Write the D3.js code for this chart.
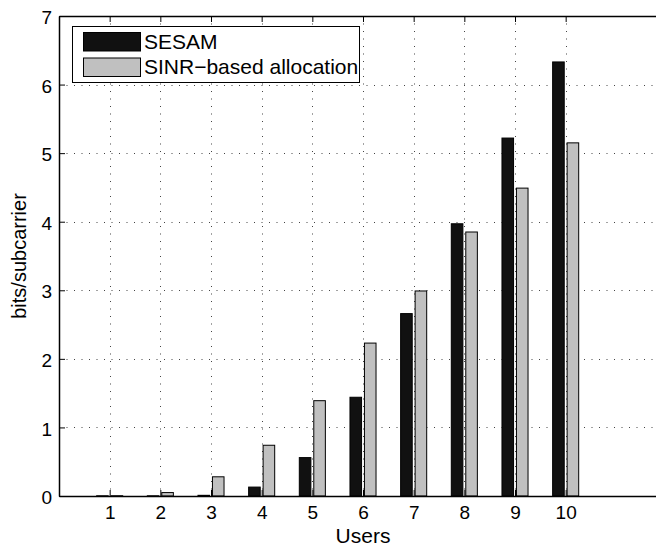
<!DOCTYPE html>
<html>
<head>
<meta charset="utf-8">
<script src="https://cdn.jsdelivr.net/npm/d3@7"></script>
<style>
  body { margin: 0; background: #fff; }
  svg { display: block; font-family: "Liberation Sans", Arial, sans-serif; }
</style>
</head>
<body>
<div id="chart"></div>
<script>
// users on the x axis
var users = [1, 2, 3, 4, 5, 6, 7, 8, 9, 10];
// bits per subcarrier
var sesam = [0.003, 0.003, 0.01, 0.13, 0.56, 1.44, 2.66, 3.97, 5.22, 6.33];
var sinr = [0.004, 0.05, 0.28, 0.74, 1.39, 2.23, 2.99, 3.85, 4.49, 5.15];
var seriesNames = ["SESAM", "SINR\u2212based allocation"];
var seriesColors = ["#111111", "#c0c0c0"];
var yTicks = [0, 1, 2, 3, 4, 5, 6, 7];

var width = 656, height = 548;
var margin = {left: 59, top: 16, right: -11, bottom: 52};

var svg = d3.select("#chart").append("svg")
    .attr("width", width)
    .attr("height", height);

// the axes box runs off the right edge, x goes to 12
var x = d3.scaleLinear().domain([0, 12]).range([margin.left, width - margin.right]);
var y = d3.scaleLinear().domain([0, 7]).range([height - margin.bottom, margin.top]);

// matlab grouped bar geometry: group width 2/3.5, bar width 0.8 of slot
var groupW = 2 / 3.5;
var barW = groupW / 2 * 0.8;

// grid
var grid = svg.append("g").attr("stroke", "#444").attr("stroke-width", 1)
    .attr("stroke-dasharray", "1,6.5");
grid.selectAll(".gx").data(users).join("line")
    .attr("x1", d => Math.round(x(d)) + 0.5).attr("x2", d => Math.round(x(d)) + 0.5)
    .attr("y1", y(7)).attr("y2", y(0));
grid.selectAll(".gy").data(yTicks.slice(1, -1)).join("line")
    .attr("y1", d => Math.round(y(d)) + 0.5).attr("y2", d => Math.round(y(d)) + 0.5)
    .attr("x1", x(0)).attr("x2", x(12));

// bars
var data = [sesam, sinr];
data.forEach(function(vals, s) {
    var off = (s - 0.5) * groupW / 2;
    svg.append("g").selectAll("rect").data(vals).join("rect")
        .attr("x", (d, i) => x(users[i] + off - barW / 2))
        .attr("width", x(barW) - x(0))
        .attr("y", d => y(d))
        .attr("height", d => y(0) - y(d))
        .attr("fill", seriesColors[s])
        .attr("stroke", "#000")
        .attr("stroke-width", 1);
});

// axes
var xAxis = d3.axisBottom(x).tickValues(users).tickSize(-6).tickPadding(10).tickSizeOuter(0);
var yAxis = d3.axisLeft(y).tickValues(yTicks).tickFormat(d3.format("d"))
    .tickSize(-6).tickPadding(7).tickSizeOuter(0);

var gx = svg.append("g").attr("transform", `translate(0,${y(0)})`).call(xAxis);
var gy = svg.append("g").attr("transform", `translate(${x(0)},0)`).call(yAxis);
var gxTop = svg.append("g").attr("transform", `translate(0,${y(7)})`)
    .call(d3.axisTop(x).tickValues(users).tickSize(-6).tickFormat("").tickSizeOuter(0));

[gx, gy, gxTop].forEach(g => {
    g.select(".domain").attr("stroke", "#000").attr("stroke-width", 1.5);
    g.selectAll(".tick line").attr("stroke", "#000");
    g.selectAll("text").attr("fill", "#000").attr("font-size", 19)
        .attr("font-family", "Liberation Sans, Arial, sans-serif");
});
gy.selectAll("text").attr("dy", "0.4em");

// axis labels
svg.append("text")
    .attr("x", (x(0) + x(12)) / 2).attr("y", 543)
    .attr("text-anchor", "middle").attr("font-size", 21)
    .text("Users");
svg.append("text")
    .attr("transform", `translate(26,${(y(0) + y(7)) / 2}) rotate(-90)`)
    .attr("text-anchor", "middle").attr("font-size", 20)
    .text("bits/subcarrier");

// legend
var leg = svg.append("g");
leg.append("rect")
    .attr("x", 72.5).attr("y", 26.5).attr("width", 287).attr("height", 56)
    .attr("fill", "#fff").attr("stroke", "#000").attr("stroke-width", 1);
seriesNames.forEach(function(name, s) {
    leg.append("rect")
        .attr("x", 83.5).attr("y", 32.5 + s * 25.5).attr("width", 57).attr("height", 18.5)
        .attr("fill", seriesColors[s]).attr("stroke", "#000");
    leg.append("text")
        .attr("x", 144).attr("y", 49 + s * 24.5)
        .attr("font-size", 21)
        .text(name);
});
</script>
</body>
</html>
